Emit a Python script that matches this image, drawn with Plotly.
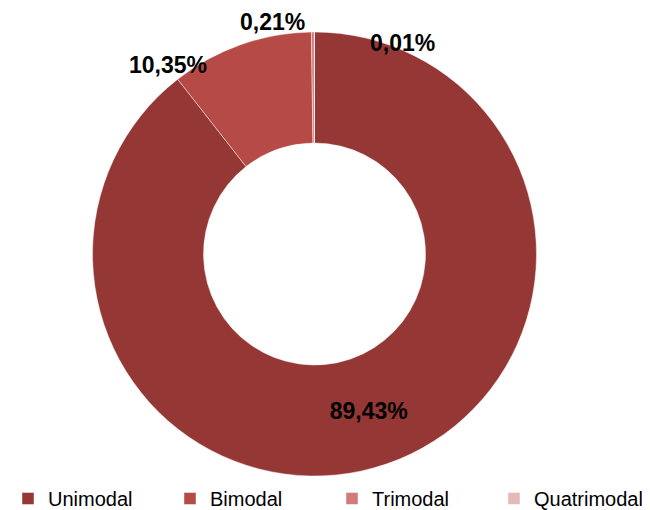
import plotly.graph_objects as go

labels = ["Unimodal", "Bimodal", "Trimodal", "Quatrimodal"]
values = [89.43, 10.35, 0.21, 0.01]
colors = ["#953735", "#B64A46", "#D07B7A", "#E6B9B8"]
# label anchor positions for the small slices (screen pixels)
label_px = {"Bimodal": (168, 65), "Trimodal": (272, 22), "Quatrimodal": (403, 43)}

W, H = 650, 510
OFF = 8  # page body margin offset in the browser
total = sum(values)

def fmt(v):
    return f"{100 * v / total:.2f}".replace(".", ",") + "%"

def fx(px):
    return (px - OFF) / W

def fy(py):
    return 1 - (py - OFF) / H

LABEL_FONT = dict(family="Liberation Sans, Arial", size=23, color="black", weight="bold")

fig = go.Figure(go.Pie(
    labels=labels,
    values=values,
    hole=0.5,
    sort=False,
    direction="clockwise",
    rotation=0,
    marker=dict(colors=colors, line=dict(color="rgba(255,255,255,0.45)", width=1)),
    texttemplate="%{percent:.2%}",
    textposition=["inside", "none", "none", "none"],
    insidetextorientation="horizontal",
    textfont=LABEL_FONT,
    domain=dict(x=[fx(92), fx(537)], y=[fy(476), fy(32)]),
))

for lab, v in zip(labels, values):
    if lab in label_px:
        px, py = label_px[lab]
        fig.add_annotation(x=fx(px), y=fy(py), xref="paper", yref="paper",
                           xanchor="center", yanchor="middle",
                           text=fmt(v), showarrow=False, font=LABEL_FONT)

fig.update_layout(
    width=W, height=H,
    margin=dict(l=0, r=0, t=0, b=0),
    separators=",.",
    paper_bgcolor="white",
    plot_bgcolor="white",
    font=dict(family="Liberation Sans, Arial", size=20, color="black"),
    legend=dict(orientation="h", x=0, y=0, xanchor="left", yanchor="bottom",
                entrywidth=117, entrywidthmode="pixels", bgcolor="rgba(0,0,0,0)",
                font=dict(size=20), itemwidth=30, traceorder="normal"),
)

fig.write_html("out.html")
